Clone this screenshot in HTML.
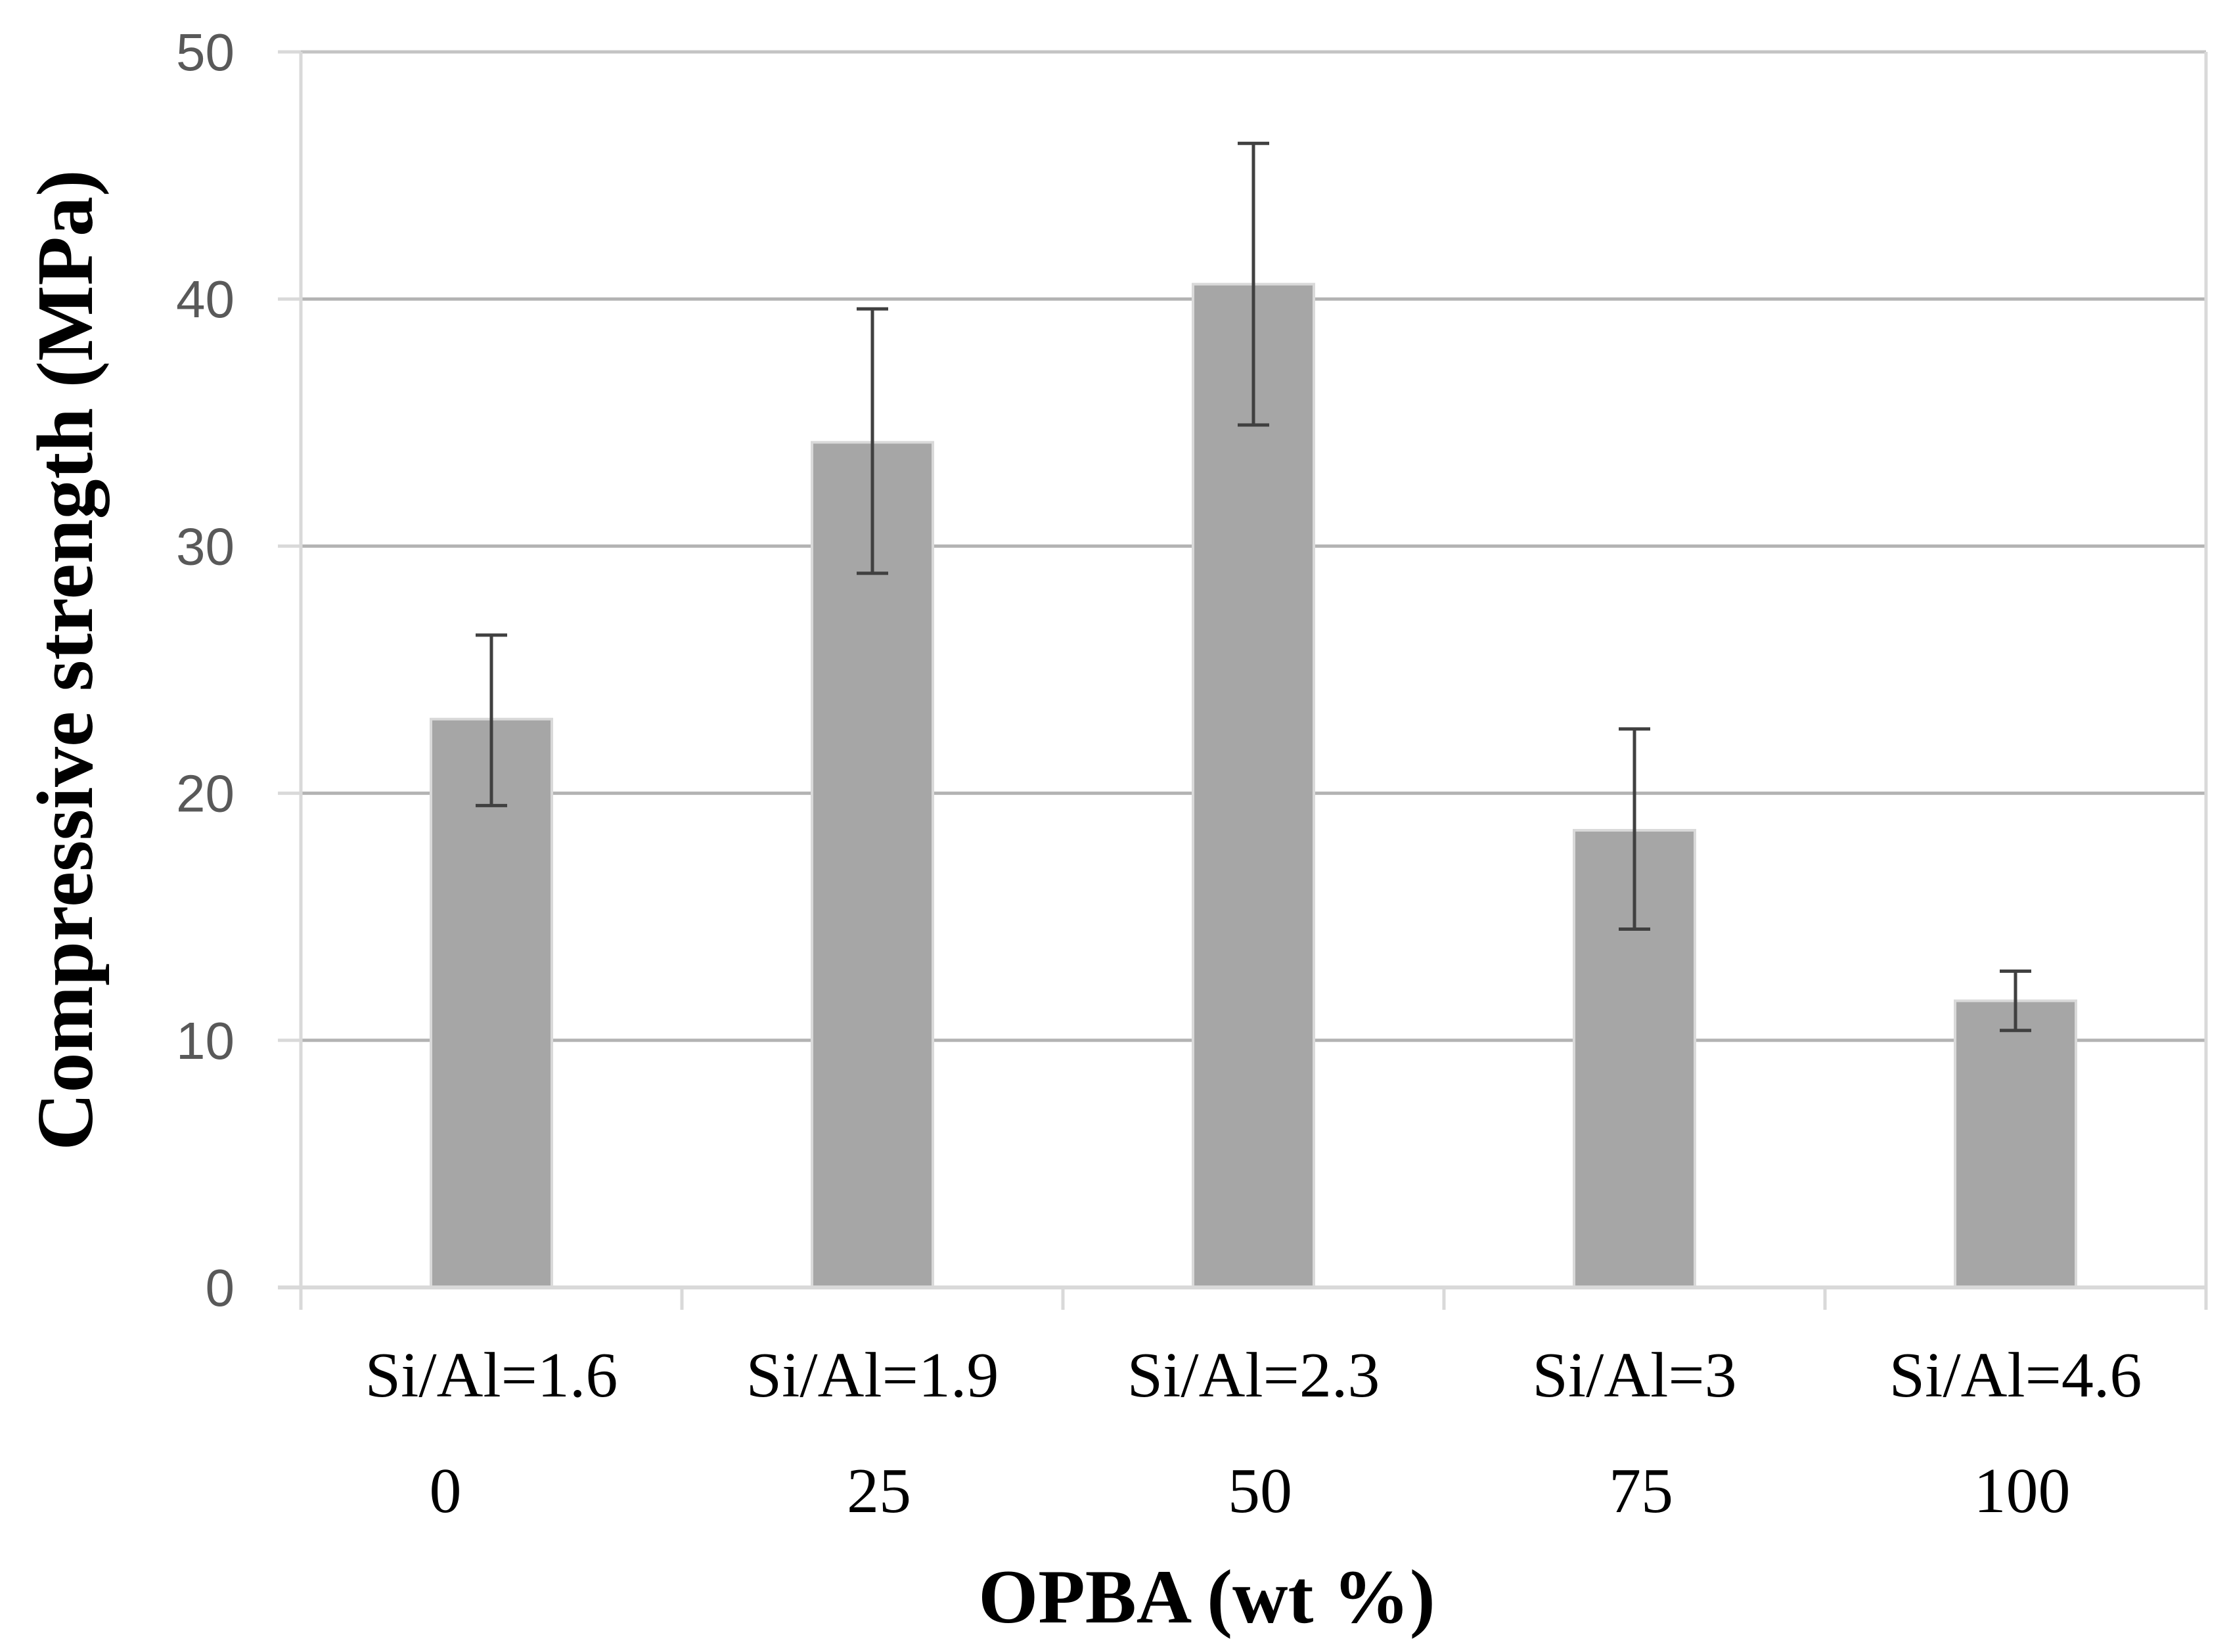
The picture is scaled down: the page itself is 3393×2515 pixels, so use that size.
<!DOCTYPE html>
<html><head><meta charset="utf-8"><style>
html,body{margin:0;padding:0;background:#fff}
svg{display:block}
</style></head><body>
<svg id="chart" width="3393" height="2515" viewBox="0 0 3393 2515" xmlns="http://www.w3.org/2000/svg">
<g id="grid"></g>
<g id="bars"></g>
<g id="errs"></g>
<g id="axes"></g>
<text transform="translate(140,1005) rotate(-90)" text-anchor="middle" font-family="'Liberation Serif',serif" font-weight="bold" font-size="122" fill="#000">Compressive strength (MPa)</text>
<text x="1837" y="2470" text-anchor="middle" font-family="'Liberation Serif',serif" font-weight="bold" font-size="117" fill="#000">OPBA (wt %)</text>
</svg>
<script>
const categories = ["Si/Al=1.6","Si/Al=1.9","Si/Al=2.3","Si/Al=3","Si/Al=4.6"];
const opbaLabels = ["0","25","50","75","100"];
const values = [23.0, 34.2, 40.6, 18.5, 11.6];
const errHigh = [26.4, 39.6, 46.3, 22.6, 12.8];
const errLow = [19.5, 28.9, 34.9, 14.5, 10.4];
const yTicks = [0,10,20,30,40,50];

const NS="http://www.w3.org/2000/svg";
const L=458,R=3358,T=79,B=1960,yMax=50;
const y=v=>B-(v/yMax)*(B-T);
const bw=(R-L)/categories.length;
const xc=i=>L+bw*(i+0.5);
function mk(tag,attrs,parent){const e=document.createElementNS(NS,tag);for(const k in attrs)e.setAttribute(k,attrs[k]);parent.appendChild(e);return e;}
const grid=document.getElementById('grid'),bars=document.getElementById('bars'),errs=document.getElementById('errs'),axes=document.getElementById('axes');
yTicks.forEach(t=>{
  if(t>0&&t<yMax){const g=mk('line',{x1:L,x2:R,y1:y(t),y2:y(t),stroke:'#b3b3b3','stroke-width':5},grid);
  
  }
  const tk=mk('line',{x1:L-35,x2:L,y1:y(t),y2:y(t),stroke:'#d9d9d9','stroke-width':5},axes);
  
  
  const lb=mk('text',{x:357,y:y(t)+28,'text-anchor':'end','font-family':"'Liberation Sans',sans-serif",'font-size':80,fill:'#595959'},axes);
  lb.textContent=t;
  
  
});
const tp=mk('line',{x1:L,x2:R,y1:T,y2:T,stroke:'#c4c4c4','stroke-width':5},axes);


const rt=mk('line',{x1:R,x2:R,y1:T,y2:B,stroke:'#d9d9d9','stroke-width':5},axes);


const ya=mk('line',{x1:L,x2:L,y1:T,y2:B+34,stroke:'#d9d9d9','stroke-width':5},axes);


const xa=mk('line',{x1:L-35,x2:R,y1:B,y2:B,stroke:'#d9d9d9','stroke-width':6},axes);


for(let i=1;i<=categories.length;i++){
  const t=mk('line',{x1:L+bw*i,x2:L+bw*i,y1:B,y2:B+34,stroke:'#d9d9d9','stroke-width':5},axes);
  
  
}
const barW=184;
values.forEach((v,i)=>{
  const r=mk('rect',{x:xc(i)-barW/2,y:y(v),width:barW,height:B-y(v),fill:'#a6a6a6',stroke:'#d9d9d9','stroke-width':4},bars);
  
  
  const g=mk('g',{stroke:'#404040','stroke-width':5},errs);
  
  
  mk('line',{x1:xc(i),x2:xc(i),y1:y(errHigh[i]),y2:y(errLow[i])},g);
  mk('line',{x1:xc(i)-24,x2:xc(i)+24,y1:y(errHigh[i]),y2:y(errHigh[i])},g);
  mk('line',{x1:xc(i)-24,x2:xc(i)+24,y1:y(errLow[i]),y2:y(errLow[i])},g);
  const c=mk('text',{x:xc(i),y:2126,'text-anchor':'middle','font-family':"'Liberation Serif',serif",'font-size':98,fill:'#000'},axes);
  c.textContent=categories[i];
  
  
  const o=mk('text',{x:xc(i)+(i===0?-70:10),y:2302,'text-anchor':'middle','font-family':"'Liberation Serif',serif",'font-size':98,fill:'#000'},axes);
  o.textContent=opbaLabels[i];
  
  
});
</script>
</body></html>
